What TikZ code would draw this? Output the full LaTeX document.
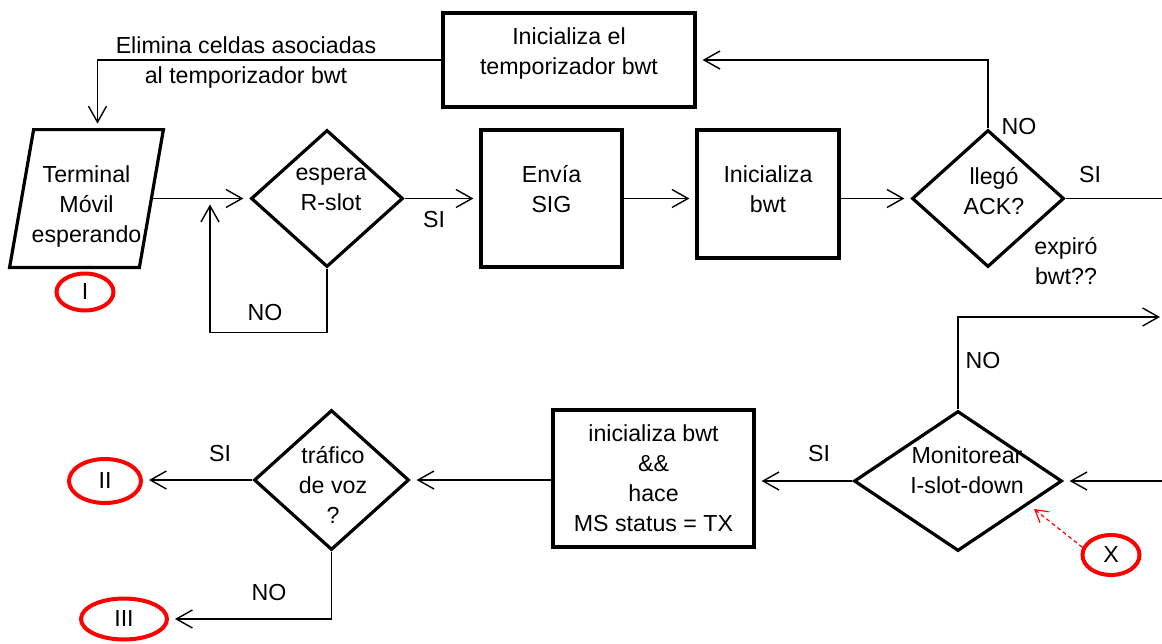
\documentclass[tikz,border=0pt]{standalone}
\usepackage{fontspec}
\setmainfont{Liberation Sans}
\usetikzlibrary{shapes.geometric}
\usetikzlibrary{arrows.meta}

\begin{document}
\begin{tikzpicture}[x=.5pt, y=-.5pt,
 every node/.style={font=\fontsize{11.6}{15}\selectfont, align=center, inner sep=1pt},
 box/.style={draw, line width=1.6pt, rectangle},
 decision/.style={draw, line width=1.6pt, diamond, inner sep=0pt},
 ringed/.style={draw=red, line width=2pt, ellipse, inner sep=0pt},
 conn/.style={line width=.7pt},
 arr/.style={conn, -{Straight Barb[length=8pt, width=9pt]}, shorten >=3pt}]
\useasboundingbox (0,0) rectangle (1162,643);

% fila de arriba
\node[box, minimum width=126pt, minimum height=47pt, text depth=9pt] (timer) at (569,60) {Inicializa el\\temporizador bwt};
\node[minimum width=76.5pt, minimum height=68.5pt, text height=46pt] (term) at (86.5,198.5) {Terminal\\Móvil\\esperando};
\draw[line width=1.6pt] ([xshift=12pt]term.north west) -- (term.north east)
 -- ([xshift=-12pt]term.south east) -- (term.south west) -- cycle;
\node[decision, minimum width=76pt, minimum height=68.5pt] (rslot) at (327,198.5) {};
\node (rslot-t) at (331,189) {espera\\R-slot};
\node[box, minimum width=70.5pt, minimum height=68.5pt, text depth=10pt] (sig) at (551.5,198.5) {Envía\\SIG};
\node[box, minimum width=71pt, minimum height=64pt, text depth=5pt] (bwt) at (768,194) {Inicializa\\bwt};
\node[decision, minimum width=76pt, minimum height=68.5pt] (ack) at (988,198.5) {};
\node (ack-t) at (994,191) {llegó\\ACK?};
\node[ringed, minimum width=28.5pt, minimum height=18.5pt] (st1) at (85,292) {I};

\node (elim) at (246,45) {Elimina celdas asociadas};
\node (elim2) at (246,77) {al temporizador bwt};
\draw[arr] (timer.west) -| ([xshift=5.5pt]term.north);
\draw[arr] ([xshift=-6pt]term.east) -- (rslot.west);
\coordinate (rjoin) at (210,198.5);
\draw[arr] (rslot.south) -- ++(0,64) -| (rjoin);
\node (no1) at (265,313) {NO};
\draw[arr] (rslot.east) -- (sig.west);
\node (si1) at (434,220) {SI};
\draw[arr] (sig.east) -- (sig.east -| bwt.west);
\draw[arr] (bwt.east |- ack.west) -- (ack.west);
\draw[arr] (ack.north) |- (timer.east);
\node (no2) at (1019,127) {NO};
\coordinate (outA) at (1162,198.5);
\draw[conn] (ack.east) -- (outA);
\node (si2) at (1090,175) {SI};
\node (expiro) at (1066,261) {expiró\\bwt??};

% fila de abajo
\node[decision, minimum width=104pt, minimum height=70pt] (mon) at (958,481) {};
\node (mon-t) at (967,470) {Monitorear\\I-slot-down};
\node[box, minimum width=100.5pt, minimum height=68.5pt] (tx) at (653.5,478.5) {inicializa bwt\\\&\&\\hace\\MS status = TX};
\node[decision, minimum width=77.5pt, minimum height=70pt] (voz) at (331.5,480) {};
\node (voz-t) at (333,485) {tráfico\\de voz\\?};
\node[ringed, minimum width=36pt, minimum height=22pt] (st2) at (105,481) {II};
\node[ringed, minimum width=43pt, minimum height=20.5pt] (st3) at (124,619) {III};
\node[ringed, minimum width=28.5pt, minimum height=20pt] (stx) at (1111,555) {X};

\coordinate (outB) at (1162,317);
\draw[arr, shorten >=1pt] (mon.north) |- (outB);
\node (no3) at (983,361) {NO};
\coordinate (inB) at (1162,481);
\draw[arr] (inB) -- (mon.east);
\draw[arr] (mon.west) -- (mon.west -| tx.east);
\node (si3) at (819,454) {SI};
\draw[arr] (tx.west |- voz.east) -- (voz.east);
\draw[arr] (voz.west) -- (voz.west -| st2.east);
\node (si4) at (220,454) {SI};
\draw[arr] (voz.south) |- (st3.east);
\node (no4) at (269,593) {NO};
\coordinate (xtip) at (1034,509);
\draw[red, line width=.6pt, dash pattern=on 2pt off 1.5pt, -{Straight Barb[length=6pt, width=7pt]}] (stx.165) -- (xtip);
\end{tikzpicture}
\end{document}
